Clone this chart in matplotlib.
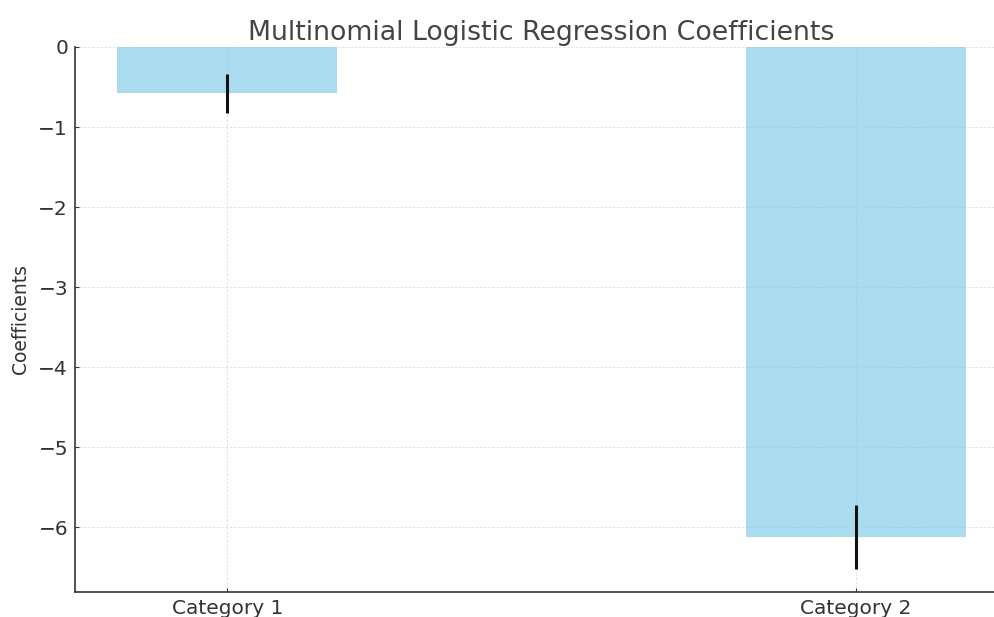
import matplotlib
matplotlib.use("Agg")
import matplotlib.pyplot as plt
import numpy as np

categories = ["Category 1", "Category 2"]
coefficients = [-0.58, -6.12]
errors = [0.245, 0.40]

fig = plt.figure(figsize=(9.95, 6.17), dpi=100)
ax = fig.add_axes([75/995, 1 - 592/617, (1008 - 75)/995, (592 - 47)/617])

x = np.arange(len(categories))
ax.bar(x, coefficients, width=0.35, color="skyblue", alpha=0.7,
       yerr=errors, ecolor="#111111", error_kw=dict(elinewidth=2.2, capsize=0))

ax.set_xticks(x)
ax.set_xticklabels(categories)
ax.set_xlim(-0.2425, 1.2425)
ax.set_ylim(-6.81, 0)
ax.set_yticks([0, -1, -2, -3, -4, -5, -6])
ax.set_yticklabels(["0", "\u22121", "\u22122", "\u22123", "\u22124", "\u22125", "\u22126"])

ax.grid(True, linestyle=(0, (3, 2)), color="#dddddd", linewidth=0.6)
ax.set_axisbelow(True)
for s in ["top", "right"]:
    ax.spines[s].set_visible(False)
for s in ["left", "bottom"]:
    ax.spines[s].set_color("#333333")
    ax.spines[s].set_linewidth(1.2)

ax.tick_params(axis="both", direction="in", labelsize=14.5, colors="#333333", length=3, pad=5)
ax.set_ylabel("Coefficients", fontsize=13.5, color="#333333", labelpad=6)
ax.set_title("Multinomial Logistic Regression Coefficients", fontsize=19.3,
             color="#444444", pad=5)

fig.savefig("out.png", dpi=100)
